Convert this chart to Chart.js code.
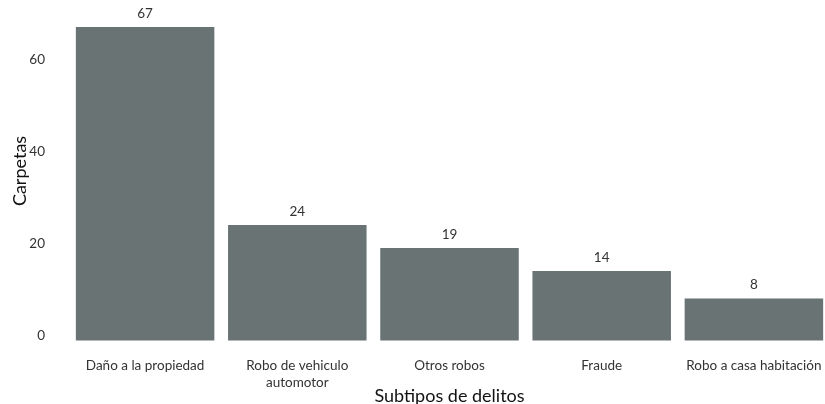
<!DOCTYPE html>
<html><head><meta charset="utf-8">
<script src="https://cdn.jsdelivr.net/npm/chart.js@4"></script>
<style>html,body{margin:0;padding:0;background:#fff;overflow:hidden}#wrap{width:825px;height:404px;overflow:hidden}</style>
</head><body><div id="wrap"><canvas id="c" width="830" height="404"></canvas></div>
<script>
const categories = [["Daño a la propiedad"], ["Robo de vehiculo", "automotor"], ["Otros robos"], ["Fraude"], ["Robo a casa habitación"]];
const values = [67, 24, 19, 14, 8];
const yTicks = [0, 20, 40, 60];
const xTitle = 'Subtipos de delitos';
const yTitle = 'Carpetas';
const FONT = "Lato, 'Open Sans', sans-serif";

const valueLabels = {
  id: 'valueLabels',
  afterDatasetsDraw(chart) {
    const ctx = chart.ctx;
    const meta = chart.getDatasetMeta(0);
    ctx.save();
    ctx.font = "13.5px " + FONT;
    ctx.fillStyle = '#333333';
    ctx.textAlign = 'center';
    ctx.textBaseline = 'bottom';
    meta.data.forEach((bar, i) => {
      ctx.fillText(String(values[i]), bar.x, bar.y - 7);
    });
    ctx.restore();
  }
};

const yTitlePlugin = {
  id: 'yTitlePlugin',
  afterDraw(chart) {
    const ctx = chart.ctx;
    ctx.save();
    ctx.translate(20, 171);
    ctx.rotate(-Math.PI / 2);
    ctx.font = "18px " + FONT;
    ctx.fillStyle = '#111111';
    ctx.textAlign = 'center';
    ctx.textBaseline = 'middle';
    ctx.fillText(yTitle, 0, 0);
    ctx.restore();
  }
};

new Chart(document.getElementById('c'), {
  type: 'bar',
  data: {
    labels: categories,
    datasets: [{ data: values, base: -1.1, backgroundColor: '#697374', borderWidth: 0, categoryPercentage: 0.91, barPercentage: 1, clip: false }]
  },
  options: {
    responsive: false,
    animation: false,
    events: [],
    plugins: { legend: { display: false }, tooltip: { enabled: false } },
    scales: {
      x: {
        grid: { display: false, drawTicks: false },
        border: { display: false },
        ticks: { color: '#333333', font: { family: FONT, size: 13.5 }, padding: 4, maxRotation: 0, autoSkip: false },
        title: { display: true, text: xTitle, color: '#111111', font: { family: FONT, size: 18 }, padding: { top: 0, bottom: -3 } },
        afterFit(scale) { scale.height = 50; }
      },
      y: {
        min: -4.04, max: 65.9,
        grid: { display: false, drawTicks: false },
        border: { display: false },
        afterBuildTicks(scale) { scale.ticks = yTicks.map(v => ({ value: v })); },
        ticks: { color: '#333333', font: { family: FONT, size: 13.5 }, padding: 24 },
        title: { display: false },
        afterFit(scale) { scale.width = 69; }
      }
    }
  },
  plugins: [valueLabels, yTitlePlugin]
});
</script></body></html>
